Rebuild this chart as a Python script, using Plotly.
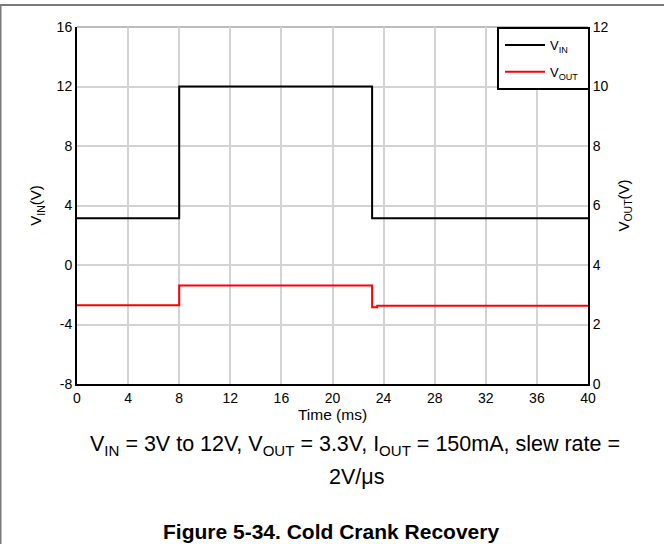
import plotly.graph_objects as go

# Input voltage step (cold crank): breakpoints in ms and volts
t_vin = [0.0, 8.0, 8.0, 23.1, 23.1, 40.0]
v_in = [3.15, 3.15, 12.0, 12.0, 3.15, 3.15]

# Output voltage response: breakpoints in ms and volts
t_vout = [0.0, 8.0, 8.0, 23.1, 23.1, 23.5, 23.5, 40.0]
v_out = [2.65, 2.65, 3.31, 3.31, 2.58, 2.58, 2.63, 2.63]

x_ticks = [0, 4, 8, 12, 16, 20, 24, 28, 32, 36, 40]
vin_ticks = [-8, -4, 0, 4, 8, 12, 16]
vout_ticks = [0, 2, 4, 6, 8, 10, 12]

FONT = "Liberation Sans, Arial, sans-serif"
W, H = 664, 544
L, R, T, B = 77, 588, 27, 384  # plot area in pixels


def px(x):
    return (x - L) / (R - L)


def py(y):
    return (B - y) / (B - T)


fig = go.Figure()
fig.add_trace(go.Scatter(
    x=t_vin, y=v_in, mode="lines", name="V<sub>IN</sub>", legendgroup="vin",
    line=dict(color="black", width=2), yaxis="y"))
fig.add_trace(go.Scatter(
    x=t_vout, y=v_out, mode="lines", name="V<sub>OUT</sub>", legendgroup="vout",
    line=dict(color="#ff0000", width=2), yaxis="y2"))

grid = "#d3d3d3"
fig.update_layout(
    width=W, height=H,
    margin=dict(l=L, r=W - R, t=T, b=H - B),
    paper_bgcolor="white", plot_bgcolor="white",
    font=dict(family=FONT, size=14, color="black"),
    showlegend=True,
    legend=dict(
        x=px(500), y=py(30), xanchor="left", yanchor="top",
        bgcolor="rgba(0,0,0,0)", borderwidth=0,
        font=dict(family=FONT, size=13, color="black"),
        itemwidth=40, tracegroupgap=7, traceorder="grouped",
    ),
    xaxis=dict(
        range=[0, 40], tickvals=x_ticks, ticktext=[str(v) for v in x_ticks],
        showgrid=True, gridcolor=grid, gridwidth=1.5,
        showline=True, linecolor="black", linewidth=2,
        ticks="", zeroline=False,
        title=dict(text="Time (ms)", standoff=2, font=dict(size=15.5)),
        tickfont=dict(size=14),
    ),
    yaxis=dict(
        range=[-8, 16], tickvals=vin_ticks, ticktext=[str(v) for v in vin_ticks],
        showgrid=True, gridcolor=grid, gridwidth=1.5,
        showline=True, linecolor="black", linewidth=2,
        ticks="", zeroline=False,
        title=dict(text="V<sub>IN</sub>(V)", standoff=11, font=dict(size=15)),
        tickfont=dict(size=14),
    ),
    yaxis2=dict(
        range=[0, 12], tickvals=vout_ticks, ticktext=[str(v) for v in vout_ticks],
        overlaying="y", side="right",
        showgrid=False, showline=True, linecolor="black", linewidth=2,
        ticks="", zeroline=False,
        title=dict(text="V<sub>OUT</sub>(V)", standoff=11, font=dict(size=15)),
        tickfont=dict(size=14),
    ),
)

# Top edge of the plot frame drawn as a grid line
fig.add_shape(type="line", xref="paper", yref="paper", x0=0, x1=1, y0=1, y1=1,
              line=dict(color="#bdbdbd", width=2), layer="below")

# Legend frame
fig.add_shape(type="rect", xref="paper", yref="paper",
              x0=px(498), x1=px(589), y0=py(89), y1=py(28),
              fillcolor="white", line=dict(color="black", width=2), layer="above")

# Page border: top rule and left rule
fig.add_shape(type="line", xref="paper", yref="paper",
              x0=px(0), x1=px(W), y0=py(5), y1=py(5),
              line=dict(color="#7a7a7a", width=2))
fig.add_shape(type="line", xref="paper", yref="paper",
              x0=px(0.5), x1=px(0.5), y0=py(5), y1=py(H),
              line=dict(color="#7a7a7a", width=2))

# Caption and figure title
fig.add_annotation(
    x=px(355), y=py(445), xref="paper", yref="paper", showarrow=False,
    text="V<sub>IN</sub> = 3V to 12V, V<sub>OUT</sub> = 3.3V, I<sub>OUT</sub> = 150mA, slew rate =",
    font=dict(family=FONT, size=21.5, color="black"), yanchor="middle")
fig.add_annotation(
    x=px(356), y=py(477), xref="paper", yref="paper", showarrow=False,
    text="2V/μs", font=dict(family=FONT, size=21.5, color="black"), yanchor="middle")
fig.add_annotation(
    x=px(331), y=py(531), xref="paper", yref="paper", showarrow=False,
    text="<b>Figure 5-34. Cold Crank Recovery</b>",
    font=dict(family=FONT, size=21, color="black"), yanchor="middle")

fig.write_html("out.html")
